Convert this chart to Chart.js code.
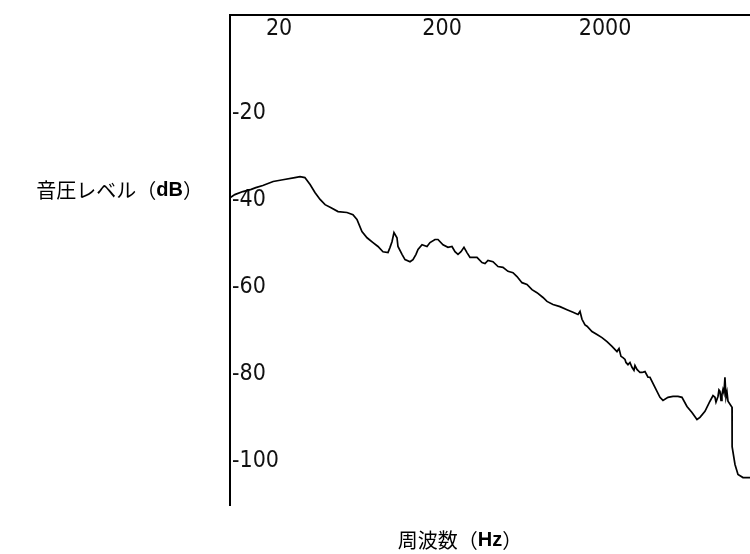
<!DOCTYPE html>
<html lang="ja">
<head>
<meta charset="utf-8">
<title>周波数特性</title>
<script src="https://cdn.jsdelivr.net/npm/chart.js@4/dist/chart.umd.min.js"></script>
<style>
    html, body { margin: 0; padding: 0; background: #ffffff; }
    #wrap { position: relative; width: 750px; height: 554px; }
</style>
</head>
<body>
<div id="wrap"><canvas id="spectrumChart"></canvas></div>
<script>
// Frequency response data (Hz / dB)
const freqHz = [
    10.0, 10.7, 12.0, 13.5, 14.4, 15.9, 18.4, 21.1, 25.0, 26.9,
    28.8, 31.0, 33.2, 35.7, 38.3, 41.7, 46.0, 52.2, 56.8, 60.1,
    64.5, 69.3, 75.4, 80.9, 86.8, 93.2, 95.9, 98.6, 101.4, 105.8,
    107.3, 113.6, 118.5, 127.2, 132.6, 138.4, 142.4, 150.7, 161.7, 168.7,
    181.0, 188.8, 202.7, 217.5, 230.1, 240.1, 250.5, 261.3, 272.6, 284.4,
    296.8, 327.6, 351.6, 366.8, 382.6, 410.7, 440.8, 472.9, 507.6, 544.8,
    576.5, 618.7, 663.9, 712.6, 764.5, 832.3, 880.7, 958.5, 1058, 1168,
    1272, 1365, 1404, 1444, 1507, 1550, 1663, 1785, 1915, 2056, 2206, 2367,
    2436, 2505, 2576, 2651, 2688, 2765, 2844, 2926, 3009, 3052,
    3140, 3276, 3370, 3516, 3668, 3773, 4049, 4345, 4533, 4865,
    5221, 5603, 5929, 6363, 6828, 7328, 7645, 8205, 8805, 9189,
    9451, 9585, 9860, 10000, 10140, 10290, 10430, 10580, 10730, 10880,
    11040, 11200, 11360, 12020, 12040, 12540, 13080, 14040, 15500
];
const levelDb = [
    -39.5, -38.8, -38.1, -37.6, -37.2, -36.7, -35.8, -35.4, -34.9, -34.7,
    -34.9, -36.5, -38.3, -39.9, -41.1, -41.8, -42.7, -42.9, -43.4, -44.5,
    -47.3, -48.7, -49.8, -50.7, -51.9, -52.1, -50.9, -49.6, -47.5, -48.7,
    -50.7, -52.5, -53.7, -54.2, -53.7, -52.5, -51.4, -50.3, -50.7, -49.8,
    -49.1, -49.1, -50.3, -50.9, -50.7, -51.9, -52.5, -51.9, -50.9, -52.1,
    -53.2, -53.2, -54.4, -54.6, -53.9, -54.2, -55.3, -55.5, -56.4, -56.7,
    -57.6, -59.0, -59.4, -60.6, -61.3, -62.4, -63.3, -64.0, -64.5, -65.2,
    -65.8, -66.3, -65.6, -67.4, -68.7, -69.0, -70.2, -70.9, -71.6, -72.5, -73.6, -74.8,
    -74.1, -75.9, -76.2, -76.6, -77.3, -77.8, -77.3, -78.4, -79.1, -78.0,
    -78.9, -79.6, -79.6, -79.4, -80.7, -80.7, -83.0, -85.3, -86.0, -85.3,
    -85.1, -85.1, -85.3, -87.4, -88.8, -90.4, -89.9, -88.5, -86.2, -84.9,
    -85.3, -86.4, -85.1, -83.6, -83.9, -86.0, -84.6, -83.5, -84.3, -80.7,
    -85.3, -84.1, -86.2, -87.6, -96.6, -100.7, -103.0, -103.7, -103.7
];

// Axis ticks and ranges
const freqTicks = [20, 200, 2000];
const levelTicks = [-20, -40, -60, -80, -100];
const freqRange = [10, 15500];
const levelRange = [-110, 2.4];

const xTitle = '周波数（Hz）';
const yTitle = '音圧レベル（dB）';

const tickFont = { family: '"DejaVu Sans Condensed", "Liberation Sans", sans-serif', size: 23, lineHeight: 1 };
const cjkFont = '20px "Noto Sans CJK JP", sans-serif';
const latinFont = 'bold 20px "Liberation Sans", Arial, sans-serif';

// Draw a title with Latin runs (units) in a heavier face
function drawTitle(ctx, text, x, y, align) {
    const runs = text.split(/([A-Za-z]+)/).filter(s => s.length);
    const widths = runs.map(r => {
        ctx.font = /^[A-Za-z]+$/.test(r) ? latinFont : cjkFont;
        return ctx.measureText(r).width;
    });
    const total = widths.reduce((a, b) => a + b, 0);
    let cx = align === 'right' ? x - total : (align === 'center' ? x - total / 2 : x);
    ctx.textAlign = 'left';
    runs.forEach((r, i) => {
        ctx.font = /^[A-Za-z]+$/.test(r) ? latinFont : cjkFont;
        ctx.fillText(r, cx, y);
        cx += widths[i];
    });
}

// Axis titles sit outside the plot, drawn straight onto the canvas
const axisTitles = {
    id: 'axisTitles',
    afterDraw(chart) {
        const ctx = chart.ctx;
        const area = chart.chartArea;
        ctx.save();
        ctx.fillStyle = '#000';
        ctx.textBaseline = 'middle';
        drawTitle(ctx, yTitle, area.left - 27, 190, 'right');
        drawTitle(ctx, xTitle, 460, 540, 'center');
        ctx.restore();
    }
};

function fixedTicks(values) {
    return function(scale) {
        scale.ticks = values.map(v => ({ value: v }));
    };
}

document.addEventListener('DOMContentLoaded', function() {
    const ctx = document.getElementById('spectrumChart').getContext('2d');

    new Chart(ctx, {
        type: 'line',
        data: {
            datasets: [{
                data: freqHz.map((f, i) => ({ x: f, y: levelDb[i] })),
                borderColor: '#000000',
                borderWidth: 1.7,
                pointRadius: 0,
                tension: 0,
                fill: false
            }]
        },
        options: {
            responsive: true,
            maintainAspectRatio: false,
            animation: false,
            layout: { padding: { left: 230, top: 15, right: 0, bottom: 49 } },
            plugins: {
                legend: { display: false },
                tooltip: { enabled: false }
            },
            scales: {
                x: {
                    type: 'logarithmic',
                    position: 'top',
                    min: freqRange[0],
                    max: freqRange[1],
                    afterBuildTicks: fixedTicks(freqTicks),
                    afterFit: function(scale) { scale.height = 0; },
                    grid: { display: false, drawTicks: false },
                    border: { display: true, color: '#000', width: 2 },
                    ticks: {
                        mirror: true,
                        padding: 3,
                        autoSkip: false,
                        maxRotation: 0,
                        color: '#111',
                        font: tickFont,
                        callback: v => String(v)
                    }
                },
                y: {
                    type: 'linear',
                    position: 'left',
                    min: levelRange[0],
                    max: levelRange[1],
                    afterBuildTicks: fixedTicks(levelTicks),
                    afterFit: function(scale) { scale.width = 0; },
                    grid: { display: false, drawTicks: false },
                    border: { display: true, color: '#000', width: 2 },
                    ticks: {
                        mirror: true,
                        padding: 2,
                        autoSkip: false,
                        color: '#111',
                        font: tickFont,
                        callback: v => String(v)
                    }
                }
            }
        },
        plugins: [axisTitles]
    });
});
</script>
</body>
</html>
